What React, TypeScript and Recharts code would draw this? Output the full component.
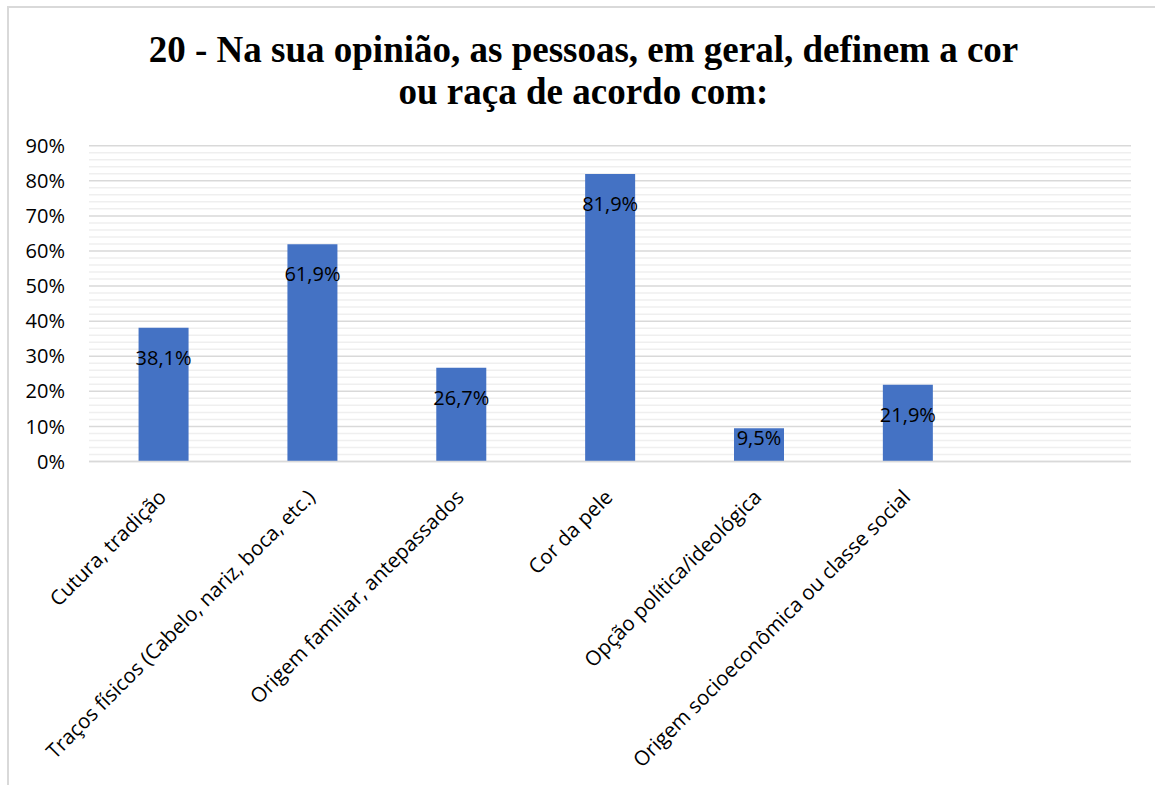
import React from "react";
import { BarChart, Bar, XAxis, YAxis, CartesianGrid, LabelList } from "recharts";

const categories = [
  "Cutura, tradição",
  "Traços físicos (Cabelo, nariz, boca, etc.)",
  "Origem familiar, antepassados",
  "Cor da pele",
  "Opção política/ideológica",
  "Origem socioeconômica ou classe social",
  "",
];
const values: (number | null)[] = [0.381, 0.619, 0.267, 0.819, 0.095, 0.219, null];
const yTicks = [0, 0.1, 0.2, 0.3, 0.4, 0.5, 0.6, 0.7, 0.8, 0.9];
const minorLines = [
  0.02, 0.04, 0.06, 0.08, 0.12, 0.14, 0.16, 0.18, 0.22, 0.24, 0.26, 0.28,
  0.32, 0.34, 0.36, 0.38, 0.42, 0.44, 0.46, 0.48, 0.52, 0.54, 0.56, 0.58,
  0.62, 0.64, 0.66, 0.68, 0.72, 0.74, 0.76, 0.78, 0.82, 0.84, 0.86, 0.88,
];
const titleLines = ["20 - Na sua opinião, as pessoas, em geral, definem a cor", "ou raça de acordo com:"];

const data = categories.map((c, i) => ({ name: c, value: values[i] }));

const FONT = "'Open Sans', sans-serif";

const fmtPct = (v: number) => (v * 100).toFixed(1).replace(".", ",") + "%";

const XTick = (props: any) => {
  const { x, y, payload } = props;
  if (!payload.value) return null;
  const tx = x + 4;
  const ty = y + 29;
  return (
    <text
      x={tx}
      y={ty}
      transform={`rotate(-45, ${tx}, ${ty})`}
      textAnchor="end"
      fontFamily={FONT}
      fontSize={20.5}
      fill="#000"
    >
      {payload.value}
    </text>
  );
};

const BarLabel = (props: any) => {
  const { x, y, width, height, value } = props;
  if (value == null) return null;
  const cy = height > 60 ? y + 30 : y + 10;
  return (
    <text
      x={x + width / 2}
      y={cy}
      dy="0.35em"
      textAnchor="middle"
      fontFamily={FONT}
      fontSize={20}
      fill="#000"
    >
      {fmtPct(value)}
    </text>
  );
};

const minorGen = (args: any) => {
  const scale = args?.yAxis?.scale;
  if (scale && typeof scale === "function") return minorLines.map((v) => scale(v));
  if (scale && typeof scale.map === "function") return minorLines.map((v) => scale.map(v));
  const { offset } = args;
  return minorLines.map((v) => offset.top + offset.height * (1 - v / 0.9));
};

export default function App() {
  return (
    <div style={{ position: "absolute", left: 0, top: 0, width: 1155, height: 785, background: "#fff", overflow: "hidden" }}>
      <div
        style={{
          position: "absolute",
          left: 7,
          top: 6,
          width: 1200,
          height: 800,
          borderLeft: "2px solid #d9d9d9",
          borderTop: "2px solid #d9d9d9",
        }}
      />
      <div
        style={{
          position: "absolute",
          left: 6,
          top: 29,
          width: 1155,
          textAlign: "center",
          fontFamily: "'Liberation Serif', 'Times New Roman', serif",
          fontWeight: "bold",
          fontSize: 37,
          lineHeight: "42px",
          color: "#000",
        }}
      >
        {titleLines.map((t, i) => (
          <div key={i}>{t}</div>
        ))}
      </div>
      <div style={{ position: "absolute", left: 0, top: 0 }}>
        <BarChart
          width={1155}
          height={785}
          data={data}
          margin={{ top: 145.7, left: 0, right: 24, bottom: 0 }}
          barCategoryGap="33.3%"
        >
          <CartesianGrid
            vertical={false}
            stroke="#efefef"
            strokeWidth={1.5}
            horizontalCoordinatesGenerator={minorGen}
          />
          <CartesianGrid vertical={false} stroke="#d9d9d9" strokeWidth={1.5} />
          <YAxis
            domain={[0, 0.9]}
            ticks={yTicks}
            width={89}
            axisLine={false}
            tickLine={false}
            tickMargin={18}
            tickFormatter={(v: number) => Math.round(v * 100) + "%"}
            tick={{ fontFamily: FONT, fontSize: 20, fill: "#000" }}
            interval={0}
          />
          <XAxis
            dataKey="name"
            height={323.5}
            interval={0}
            axisLine={{ stroke: "#d9d9d9", strokeWidth: 1.5 }}
            tickLine={false}
            tick={<XTick />}
          />
          <Bar dataKey="value" fill="#4472C4" isAnimationActive={false}>
            <LabelList dataKey="value" content={<BarLabel />} />
          </Bar>
        </BarChart>
      </div>
    </div>
  );
}
